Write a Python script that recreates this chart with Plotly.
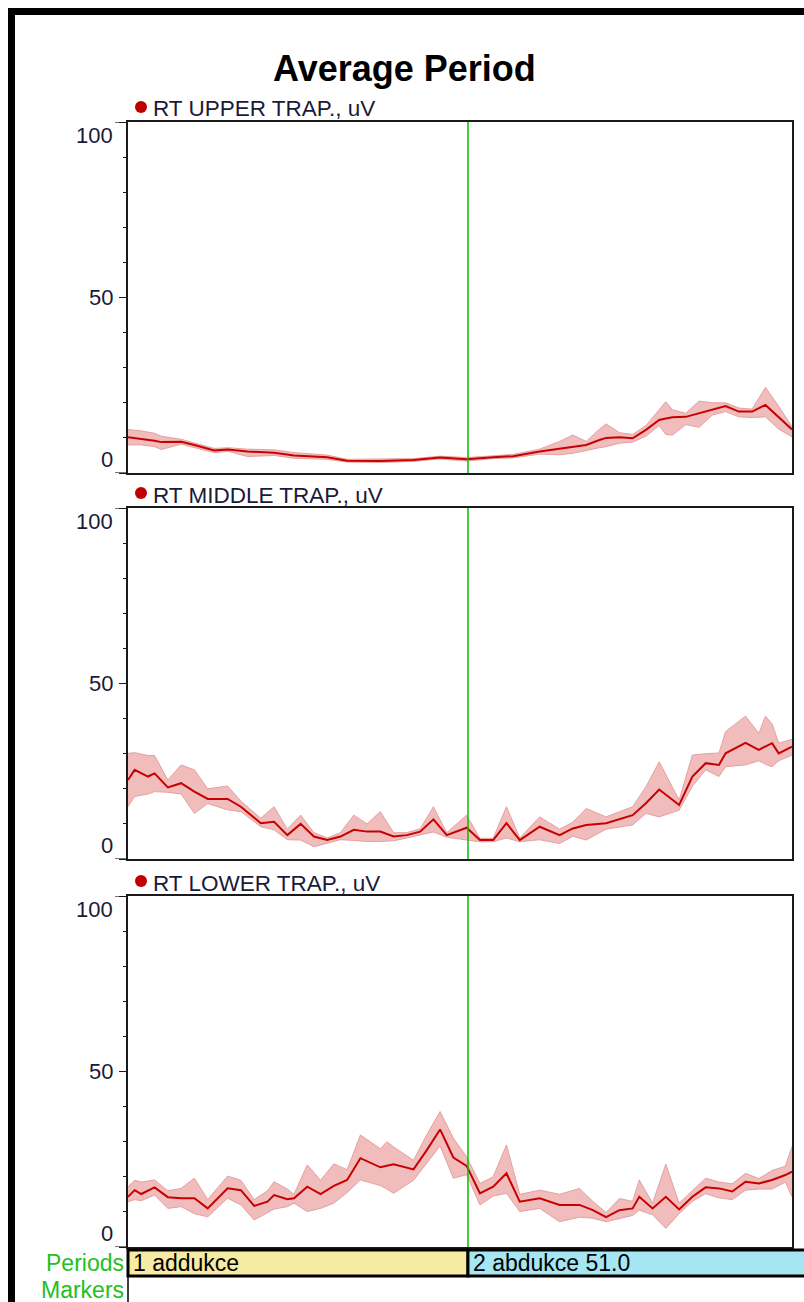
import plotly.graph_objects as go

W, H = 804, 1302


def px(x):
    return x / W


def py(y):
    return 1 - y / H


# ---------------- data ----------------
channels = ["RT UPPER TRAP., uV", "RT MIDDLE TRAP., uV", "RT LOWER TRAP., uV"]
y_ticks = [0, 50, 100]
periods = ["1 addukce", "2 abdukce 51.0"]
period_start = [0, 51.2]

x_upper = [0, 2, 4, 5, 8, 10, 13, 15, 18, 22, 25, 30, 33, 38, 43, 47, 51, 55, 58, 62, 65, 67, 69, 71, 72, 74, 76,
           78, 80, 81, 82, 84, 86, 88, 90, 92, 94, 96, 98, 100]
mean_upper = [10.2, 9.8, 9.2, 8.8, 8.9, 8.0, 6.4, 6.7, 6.1, 5.8, 5.0, 4.5, 3.5, 3.4, 3.7, 4.4, 3.9, 4.5, 4.8, 6.1,
              7.0, 7.5, 8.0, 9.4, 10.0, 10.2, 9.9, 12.3, 15.1, 15.5, 15.9, 16.0, 17.0, 18.0, 19.1, 17.5, 17.5, 19.4,
              16.0, 12.4]
lo_upper = [8.0, 8.0, 7.5, 6.7, 8.2, 7.3, 5.8, 6.2, 4.7, 5.0, 4.2, 3.9, 3.1, 3.0, 3.3, 4.0, 3.4, 4.1, 4.3, 5.4,
            5.2, 5.6, 6.5, 7.2, 7.5, 8.5, 8.8, 10.5, 13.5, 11.0, 10.8, 13.8, 13.0, 16.5, 17.5, 16.0, 15.8, 16.0,
            12.5, 10.3]
hi_upper = [12.4, 12.0, 11.3, 10.5, 9.6, 8.6, 7.0, 7.2, 6.8, 6.6, 5.8, 5.1, 3.9, 4.0, 4.1, 4.8, 4.4, 4.9, 5.3, 6.8,
            9.0, 10.8, 9.0, 12.5, 14.0, 11.5, 11.0, 13.5, 18.0, 20.3, 18.0, 17.0, 20.5, 20.0, 20.0, 18.5, 18.2, 24.4,
            19.0, 13.2]

x_middle = [0, 1, 3, 4, 6, 8, 10, 12, 15, 17, 20, 22, 24, 26, 28, 30, 32, 34, 36, 38, 40, 42, 44, 46, 48, 51, 53,
            55, 57, 59, 62, 65, 67, 69, 72, 76, 78, 80, 83, 85, 87, 89, 90, 93, 95, 96, 97, 98, 100]
mean_middle = [22.5, 25.4, 23.5, 24.4, 20.4, 21.6, 19.2, 17.1, 17.1, 14.9, 10.2, 10.6, 6.8, 10.0, 6.4, 5.4, 6.4,
               8.3, 7.8, 7.8, 6.4, 6.8, 7.8, 11.3, 6.8, 8.9, 5.4, 5.4, 10.2, 5.4, 9.2, 6.8, 8.7, 9.7, 10.2, 12.5,
               15.9, 19.8, 15.4, 23.5, 27.3, 26.8, 30.1, 33.1, 31.1, 32.0, 33.0, 30.1, 32.0]
lo_middle = [14.9, 17.8, 18.5, 19.2, 19.0, 18.5, 13.0, 15.8, 14.0, 13.5, 9.2, 8.3, 5.5, 5.4, 3.5, 4.6, 5.5, 5.3,
             5.0, 5.0, 5.2, 6.0, 6.8, 7.7, 6.2, 5.4, 4.9, 4.9, 6.0, 4.9, 5.5, 4.4, 6.5, 5.4, 8.5, 9.7, 13.0, 12.0,
             13.9, 20.7, 25.4, 23.5, 26.3, 26.8, 28.0, 27.0, 26.3, 28.0, 29.6]
hi_middle = [30.1, 30.3, 29.5, 29.5, 22.5, 26.8, 25.4, 20.0, 20.8, 16.5, 11.6, 14.9, 8.5, 12.5, 7.5, 6.0, 7.5, 12.5,
             10.0, 13.5, 7.5, 7.5, 8.6, 14.9, 7.5, 12.5, 5.9, 5.9, 14.9, 6.0, 12.0, 8.5, 10.5, 14.4, 12.0, 14.9,
             20.6, 27.7, 16.8, 29.6, 30.0, 30.2, 36.3, 40.7, 35.8, 40.7, 38.5, 33.0, 34.1]

x_lower = [0, 1, 2, 4, 6, 8, 10, 12, 15, 17, 19, 21, 22, 24, 25, 27, 29, 31, 33, 35, 38, 39, 40, 43, 45, 47, 49, 51,
           53, 55, 57, 59, 62, 65, 68, 70, 72, 74, 76, 77, 79, 81, 83, 85, 87, 89, 91, 93, 95, 97, 99, 100]
mean_lower = [14.3, 16.2, 15.1, 17.0, 14.2, 13.9, 13.9, 11.0, 16.7, 16.2, 11.7, 12.9, 14.8, 13.6, 13.9, 17.2, 15.1,
              17.4, 19.1, 25.3, 22.7, 23.2, 23.6, 22.1, 27.6, 33.5, 25.5, 23.1, 15.3, 17.2, 21.0, 12.9, 13.9, 12.0,
              12.0, 10.5, 8.5, 10.5, 11.0, 14.3, 11.0, 14.3, 10.7, 14.3, 17.0, 16.7, 15.8, 18.6, 18.1, 19.1, 20.5,
              21.5]
lo_lower = [12.9, 13.5, 13.2, 14.8, 11.0, 11.5, 9.5, 8.6, 13.9, 12.0, 7.7, 9.8, 10.8, 11.5, 12.5, 10.1, 11.0, 12.5,
            15.5, 19.1, 17.5, 16.5, 15.3, 19.0, 24.0, 28.8, 19.6, 20.6, 12.0, 14.5, 15.3, 10.1, 11.0, 7.2, 8.5, 8.2,
            7.2, 8.0, 9.0, 10.5, 9.2, 5.3, 9.5, 13.0, 15.2, 14.0, 13.5, 16.2, 16.5, 16.5, 18.5, 14.3]
hi_lower = [17.2, 19.0, 18.5, 19.1, 16.0, 16.7, 19.6, 13.5, 20.2, 19.0, 13.5, 16.0, 18.6, 16.5, 15.0, 23.4, 19.0,
            23.7, 22.0, 31.9, 28.0, 30.0, 28.5, 24.7, 32.0, 38.6, 31.0, 25.7, 18.1, 20.0, 29.1, 15.0, 16.2, 15.0,
            16.7, 13.0, 9.8, 13.8, 13.0, 19.1, 12.5, 23.6, 12.5, 16.0, 19.6, 18.5, 18.0, 21.0, 19.5, 21.8, 23.0,
            28.6]

series = [
    (x_upper, mean_upper, lo_upper, hi_upper),
    (x_middle, mean_middle, lo_middle, hi_middle),
    (x_lower, mean_lower, lo_lower, hi_lower),
]

# ---------------- styling / layout ----------------
FONT = "Liberation Sans, Arial, sans-serif"
TXT = "#1a1a3a"
MEAN_COL = "#c80000"
BAND_FILL = "#f1bcbc"
BAND_EDGE = "#e6a0a0"
GREEN = "#00c000"
AX_COL = "#1a1a1a"

X_LEFT, X_RIGHT = 128, 792
panel_tops = [122, 508, 896]
PANEL_H = 351
x_dom = [px(X_LEFT), px(X_RIGHT)]

fig = go.Figure()
shapes = []
annotations = []

for i, (xs, m, lo, hi) in enumerate(series):
    n = "" if i == 0 else str(i + 1)
    xa, ya = "x" + n, "y" + n
    fig.add_trace(go.Scatter(x=xs, y=hi, mode="lines", line=dict(color=BAND_EDGE, width=1),
                             xaxis=xa, yaxis=ya, hoverinfo="skip", showlegend=False))
    fig.add_trace(go.Scatter(x=xs, y=lo, mode="lines", line=dict(color=BAND_EDGE, width=1),
                             fill="tonexty", fillcolor=BAND_FILL,
                             xaxis=xa, yaxis=ya, hoverinfo="skip", showlegend=False))
    fig.add_trace(go.Scatter(x=xs, y=m, mode="lines", line=dict(color=MEAN_COL, width=2),
                             xaxis=xa, yaxis=ya, showlegend=False, name=channels[i]))

    top = panel_tops[i]
    bot = top + PANEL_H
    fig.update_layout(**{
        "xaxis" + n: dict(domain=x_dom, range=[0, 100], showticklabels=False, ticks="",
                          showgrid=False, zeroline=False, showline=True, mirror=True,
                          linecolor=AX_COL, linewidth=1.5, anchor=ya, fixedrange=True),
        "yaxis" + n: dict(domain=[py(bot), py(top)], range=[0, 100], tickvals=y_ticks,
                          showticklabels=False, ticks="outside", ticklen=7, tickwidth=1.2,
                          tickcolor=AX_COL,
                          minor=dict(dtick=10, ticks="outside", ticklen=3, tickcolor=AX_COL, tickwidth=1.2),
                          showgrid=False, zeroline=False, showline=True, mirror=True,
                          linecolor=AX_COL, linewidth=1.5, anchor=xa, fixedrange=True),
    })

    # period boundary line
    shapes.append(dict(type="line", xref=xa, yref=ya + " domain", x0=period_start[1], x1=period_start[1],
                       y0=0, y1=1, line=dict(color=GREEN, width=1.5), layer="above"))

    # longer ticks at 0 and 100
    for v in (y_ticks[0], y_ticks[-1]):
        shapes.append(dict(type="line", xref="paper", yref=ya, x0=px(115), x1=px(X_LEFT), y0=v, y1=v,
                           line=dict(color=AX_COL, width=1.2)))

    # tick labels
    for v, anchor in zip(y_ticks, ["bottom", "middle", "top"]):
        annotations.append(dict(text=str(v), xref="paper", yref=ya, x=px(114), y=v, xanchor="right",
                                yanchor=anchor, showarrow=False, font=dict(family=FONT, size=22, color=TXT),
                                borderpad=0))

    # channel label with red dot
    lab_y = top - 13
    shapes.append(dict(type="circle", xref="paper", yref="paper", x0=px(135), x1=px(147),
                       y0=py(lab_y + 4), y1=py(lab_y - 8), fillcolor="#c00000", line=dict(width=0)))
    annotations.append(dict(text=channels[i], xref="paper", yref="paper", x=px(151), y=py(lab_y),
                            xanchor="left", yanchor="middle", showarrow=False,
                            font=dict(family=FONT, size=22.5, color=TXT)))

# title
annotations.append(dict(text="<b>Average Period</b>", xref="paper", yref="paper", x=px(405), y=py(68),
                        xanchor="center", yanchor="middle", showarrow=False,
                        font=dict(family=FONT, size=36, color="#000000")))

# outer black frame (top + left)
shapes.append(dict(type="rect", xref="paper", yref="paper", x0=px(8), x1=1.0, y0=py(15), y1=py(8),
                   fillcolor="#000000", line=dict(width=0)))
shapes.append(dict(type="rect", xref="paper", yref="paper", x0=px(8), x1=px(15), y0=0, y1=py(8),
                   fillcolor="#000000", line=dict(width=0)))

# periods bar
P_TOP, P_BOT = 1250, 1276
boundary_paper = x_dom[0] + period_start[1] / 100 * (x_dom[1] - x_dom[0])
shapes.append(dict(type="rect", xref="paper", yref="paper", x0=x_dom[0], x1=boundary_paper,
                   y0=py(P_BOT), y1=py(P_TOP), fillcolor="#f6eba2", line=dict(color="#000000", width=3)))
shapes.append(dict(type="rect", xref="paper", yref="paper", x0=boundary_paper, x1=1.01,
                   y0=py(P_BOT), y1=py(P_TOP), fillcolor="#a6e6f2", line=dict(color="#000000", width=3)))
for lbl, x0p in zip(periods, [x_dom[0], boundary_paper]):
    annotations.append(dict(text=lbl, xref="paper", yref="paper", x=x0p + px(3), y=py((P_TOP + P_BOT) / 2),
                            xanchor="left", yanchor="middle", showarrow=False,
                            font=dict(family=FONT, size=23, color="#000000")))

# markers row
shapes.append(dict(type="line", xref="paper", yref="paper", x0=x_dom[0], x1=x_dom[0], y0=0, y1=py(P_BOT),
                   line=dict(color="#000000", width=1.5)))
for lbl, yc in [("Periods", 1263), ("Markers", 1290)]:
    annotations.append(dict(text=lbl, xref="paper", yref="paper", x=px(126), y=py(yc), xanchor="right",
                            yanchor="middle", showarrow=False,
                            font=dict(family=FONT, size=23, color="#22c022")))

fig.update_layout(width=W, height=H, margin=dict(l=0, r=0, t=0, b=0), paper_bgcolor="white",
                  plot_bgcolor="white", showlegend=False, shapes=shapes, annotations=annotations)

fig.write_html("out.html")
